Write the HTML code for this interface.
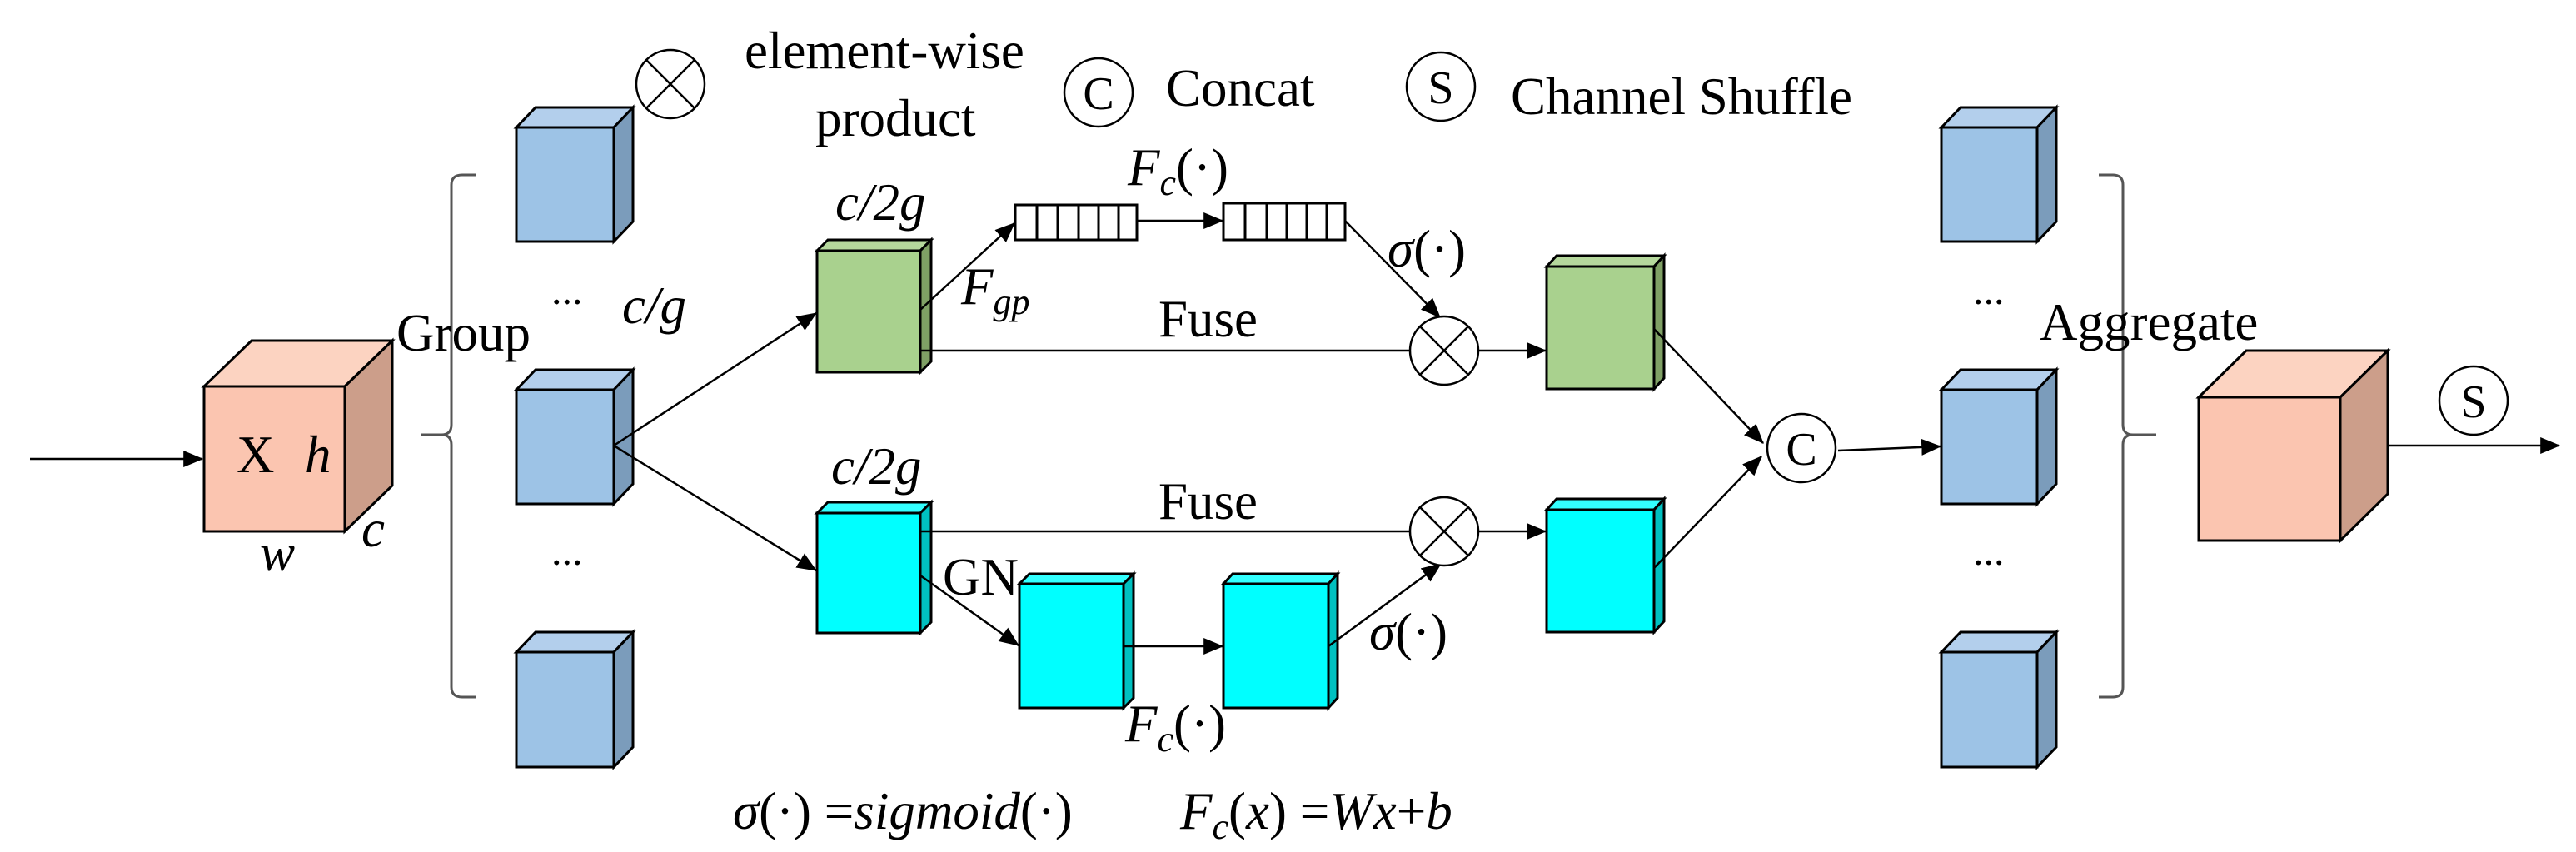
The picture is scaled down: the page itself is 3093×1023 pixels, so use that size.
<!DOCTYPE html>
<html><head><meta charset="utf-8"><style>
html,body{margin:0;padding:0;background:#fff;}
svg{display:block;}
text{font-family:"Liberation Serif",serif;fill:#000;}
.t{font-size:63px;}
.i{font-style:italic;}
</style></head><body>
<svg width="3093" height="1023" viewBox="0 0 3093 1023" xmlns="http://www.w3.org/2000/svg">
<defs>
<marker id="a" viewBox="0 0 10 10" refX="10" refY="5" markerWidth="9" markerHeight="9" markerUnits="userSpaceOnUse" orient="auto">
</marker>
<marker id="ar" viewBox="0 0 10 10" refX="9.5" refY="5" markerWidth="24" markerHeight="20" markerUnits="userSpaceOnUse" orient="auto" preserveAspectRatio="none"><path d="M0,0 L10,5 L0,10 z" fill="#000"/></marker>
</defs>
<g stroke="#000" stroke-width="3" stroke-linejoin="miter">
<!-- X cube -->
<polygon points="245,464 302,409 471,409 414,464" fill="#FCD3C1"/>
<polygon points="414,464 471,409 471,583 414,638" fill="#CC9E8A"/>
<rect x="245" y="464" width="169" height="174" fill="#FBC5B0"/>
<!-- left blue cubes -->
<g>
<polygon points="620,153 643,129 760,129 737,153" fill="#B3CFEC"/>
<polygon points="737,153 760,129 760,266 737,290" fill="#7B9CBB"/>
<rect x="620" y="153" width="117" height="137" fill="#9DC3E6"/>
<polygon points="620,468 643,444 760,444 737,468" fill="#B3CFEC"/>
<polygon points="737,468 760,444 760,581 737,605" fill="#7B9CBB"/>
<rect x="620" y="468" width="117" height="137" fill="#9DC3E6"/>
<polygon points="620,783 643,759 760,759 737,783" fill="#B3CFEC"/>
<polygon points="737,783 760,759 760,897 737,921" fill="#7B9CBB"/>
<rect x="620" y="783" width="117" height="138" fill="#9DC3E6"/>
</g>
<!-- right blue cubes -->
<g>
<polygon points="2331,153 2354,129 2469,129 2446,153" fill="#B3CFEC"/>
<polygon points="2446,153 2469,129 2469,266 2446,290" fill="#7B9CBB"/>
<rect x="2331" y="153" width="115" height="137" fill="#9DC3E6"/>
<polygon points="2331,468 2354,444 2469,444 2446,468" fill="#B3CFEC"/>
<polygon points="2446,468 2469,444 2469,581 2446,605" fill="#7B9CBB"/>
<rect x="2331" y="468" width="115" height="137" fill="#9DC3E6"/>
<polygon points="2331,783 2354,759 2469,759 2446,783" fill="#B3CFEC"/>
<polygon points="2446,783 2469,759 2469,897 2446,921" fill="#7B9CBB"/>
<rect x="2331" y="783" width="115" height="138" fill="#9DC3E6"/>
</g>
<!-- green1 -->
<polygon points="981,301 994,288 1118,288 1105,301" fill="#B5D89C"/>
<polygon points="1105,301 1118,288 1118,434 1105,447" fill="#7FA065"/>
<rect x="981" y="301" width="124" height="146" fill="#A9D18E"/>
<!-- cyan1 -->
<polygon points="981,616 994,603 1118,603 1105,616" fill="#33FFFF"/>
<polygon points="1105,616 1118,603 1118,747 1105,760" fill="#00C0C0"/>
<rect x="981" y="616" width="124" height="144" fill="#00FFFF"/>
<!-- cyan2 -->
<polygon points="1224,701 1236,689 1361,689 1349,701" fill="#33FFFF"/>
<polygon points="1349,701 1361,689 1361,838 1349,850" fill="#00C0C0"/>
<rect x="1224" y="701" width="125" height="149" fill="#00FFFF"/>
<!-- cyan3 -->
<polygon points="1469,701 1480,689 1606,689 1595,701" fill="#33FFFF"/>
<polygon points="1595,701 1606,689 1606,838 1595,850" fill="#00C0C0"/>
<rect x="1469" y="701" width="126" height="149" fill="#00FFFF"/>
<!-- green2 -->
<polygon points="1857,320 1869,307 1998,307 1986,320" fill="#B5D89C"/>
<polygon points="1986,320 1998,307 1998,454 1986,467" fill="#7FA065"/>
<rect x="1857" y="320" width="129" height="147" fill="#A9D18E"/>
<!-- cyan4 -->
<polygon points="1857,612 1869,599 1998,599 1986,612" fill="#33FFFF"/>
<polygon points="1986,612 1998,599 1998,746 1986,759" fill="#00C0C0"/>
<rect x="1857" y="612" width="129" height="147" fill="#00FFFF"/>
<!-- output cube -->
<polygon points="2640,477 2697,421 2867,421 2810,477" fill="#FCD3C1"/>
<polygon points="2810,477 2867,421 2867,593 2810,649" fill="#CC9E8A"/>
<rect x="2640" y="477" width="170" height="172" fill="#FBC5B0"/>
<!-- bars -->
<rect x="1219" y="246" width="146" height="42" fill="#fff"/>
<rect x="1469" y="244" width="146" height="44" fill="#fff"/>
<path d="M1245,246V288M1270,246V288M1295,246V288M1319,246V288M1343,246V288 M1495,244V288M1521,244V288M1545,244V288M1569,244V288M1593,244V288" fill="none"/>
</g>
<!-- brackets -->
<g stroke="#555" stroke-width="3" fill="none">
<path d="M572,210 H555 Q542,210 542,222 V510 Q542,522 530,522 H505 M530,522 Q542,522 542,534 V825 Q542,837 555,837 H572"/>
<path d="M2520,210 H2537 Q2549,210 2549,222 V510 Q2549,522 2561,522 H2589 M2561,522 Q2549,522 2549,534 V825 Q2549,837 2537,837 H2520"/>
</g>
<!-- connectors -->
<g stroke="#000" stroke-width="2.5" fill="none" marker-end="url(#ar)">
<line x1="36" y1="551" x2="243" y2="551"/>
<line x1="737" y1="535" x2="980" y2="376"/>
<line x1="737" y1="535" x2="980" y2="685"/>
<line x1="1105" y1="372" x2="1218" y2="268"/>
<line x1="1365" y1="265" x2="1468" y2="265"/>
<line x1="1615" y1="265" x2="1729" y2="381"/>
<line x1="1776" y1="421" x2="1856" y2="421"/>
<line x1="1105" y1="691" x2="1223" y2="775"/>
<line x1="1349" y1="776" x2="1468" y2="776"/>
<line x1="1595" y1="776" x2="1730" y2="677"/>
<line x1="1776" y1="638" x2="1856" y2="638"/>
<line x1="1986" y1="395" x2="2117" y2="532"/>
<line x1="1986" y1="682" x2="2115" y2="548"/>
<line x1="2207" y1="541" x2="2330" y2="536"/>
<line x1="2866" y1="535" x2="3073" y2="535"/>
</g>
<g stroke="#000" stroke-width="2.5" fill="none">
<line x1="1105" y1="421" x2="1692" y2="421"/>
<line x1="1105" y1="638" x2="1692" y2="638"/>
</g>
<!-- circles -->
<g stroke="#000" stroke-width="2.5" fill="#fff">
<circle cx="1734" cy="421" r="41"/>
<circle cx="1734" cy="638" r="41"/>
<circle cx="805" cy="101" r="41"/>
<circle cx="1319" cy="111" r="41"/>
<circle cx="1730" cy="104" r="41"/>
<circle cx="2163" cy="538" r="41"/>
<circle cx="2970" cy="481" r="41"/>
</g>
<g stroke="#000" stroke-width="2.5">
<path d="M1705,392L1763,450M1763,392L1705,450M1705,609L1763,667M1763,609L1705,667M776,72L834,130M834,72L776,130"/>
</g>
<g font-size="56" text-anchor="middle">
<text x="1319" y="131">C</text>
<text x="1730" y="124">S</text>
<text x="2163" y="558">C</text>
<text x="2970" y="501">S</text>
</g>
<!-- labels -->
<g class="t">
<text x="894" y="82">element-wise</text>
<text x="979" y="163">product</text>
<text x="1400" y="127">Concat</text>
<text x="1814" y="137">Channel Shuffle</text>
<text x="476" y="421">Group</text>
<text x="2449" y="408">Aggregate</text>
<text x="284" y="567">X</text>
<text class="i" x="366" y="567">h</text>
<text class="i" x="434" y="656">c</text>
<text class="i" x="312" y="685">w</text>
<text x="662" y="365" font-size="50">...</text>
<text x="662" y="678" font-size="50">...</text>
<text x="2369" y="365" font-size="50">...</text>
<text x="2369" y="678" font-size="50">...</text>
<text class="i" x="747" y="388">c/g</text>
<text class="i" x="1003" y="264">c/2g</text>
<text class="i" x="998" y="581">c/2g</text>
<text x="1391" y="404">Fuse</text>
<text x="1391" y="623">Fuse</text>
<text x="1132" y="714">GN</text>
<text x="1154" y="365"><tspan class="i">F</tspan><tspan class="i" font-size="44" dy="12">gp</tspan></text>
<text x="1354" y="222"><tspan class="i">F</tspan><tspan class="i" font-size="44" dy="12">c</tspan><tspan dy="-12">(·)</tspan></text>
<text x="1351" y="890"><tspan class="i">F</tspan><tspan class="i" font-size="44" dy="12">c</tspan><tspan dy="-12">(·)</tspan></text>
<text x="1666" y="320"><tspan class="i">σ</tspan>(·)</text>
<text x="1644" y="780"><tspan class="i">σ</tspan>(·)</text>
<text x="880" y="995"><tspan class="i">σ</tspan>(·) =<tspan class="i">sigmoid</tspan>(·)</text>
<text x="1417" y="995"><tspan class="i">F</tspan><tspan class="i" font-size="44" dy="12">c</tspan><tspan dy="-12">(</tspan><tspan class="i">x</tspan>) =<tspan class="i">Wx</tspan>+<tspan class="i">b</tspan></text>
</g>
</svg>
</body></html>
